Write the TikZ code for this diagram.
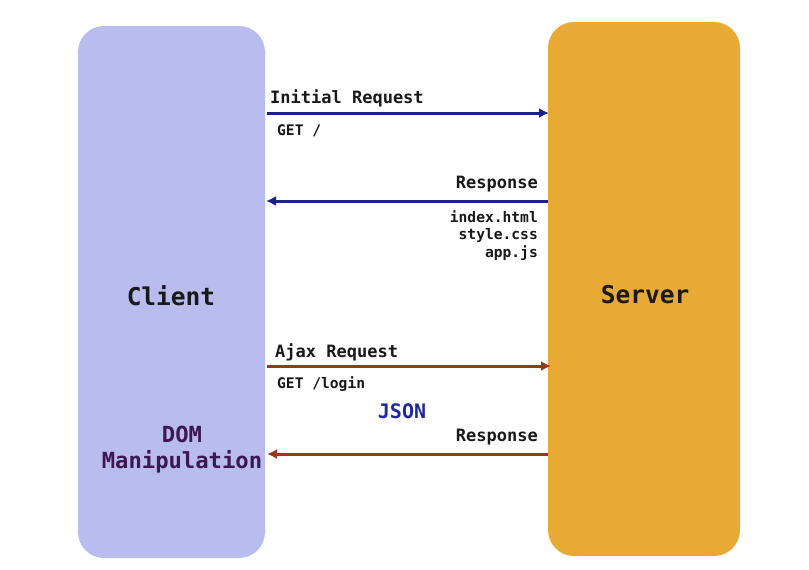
\documentclass[tikz,border=0pt]{standalone}
\usepackage{fontspec}
\setmonofont{DejaVu Sans Mono}
\usetikzlibrary{arrows.meta}
\definecolor{clientfill}{RGB}{184,188,238}
\definecolor{serverfill}{RGB}{232,170,52}
\definecolor{navyarrow}{RGB}{28,34,132}
\definecolor{redarrow}{RGB}{158,52,30}
\definecolor{dompurple}{RGB}{62,22,84}
\definecolor{jsonblue}{RGB}{30,40,165}
\definecolor{txt}{RGB}{25,25,25}
\begin{document}
\begin{tikzpicture}[x=1pt,y=-1pt,
  box/.style={rounded corners=26pt,draw=none,inner sep=0pt},
  lbl/.style={font=\ttfamily\bfseries\fontsize{17}{19}\selectfont,text=txt,inner sep=0pt},
  sub/.style={font=\ttfamily\bfseries\fontsize{14.6}{17}\selectfont,text=txt,inner sep=0pt},
  big/.style={font=\ttfamily\bfseries\fontsize{24.5}{27}\selectfont,text=txt,inner sep=0pt},
  conn/.style={line width=3pt,-{Latex[length=10pt,width=10pt]}}]
\useasboundingbox (0,0) rectangle (809,570);
\fill[white] (0,0) rectangle (809,570);
\node[box,fill=clientfill,minimum width=187pt,minimum height=532pt] (client) at (171.5,292) {};
\node[box,fill=serverfill,minimum width=192pt,minimum height=534pt] (server) at (644,289) {};
\node[big] (clientlbl) at (171,296) {Client};
\node[big] (serverlbl) at (645,295) {Server};
% coordinates for arrow ends
\coordinate (c1) at (267,113); \coordinate (s1) at (549,113);
\coordinate (s2) at (548,201); \coordinate (c2) at (266,201);
\coordinate (c3) at (267,366); \coordinate (s3) at (551,366);
\coordinate (s4) at (548,454); \coordinate (c4) at (267,454);
\draw[conn,navyarrow] (c1) -- (s1);
\draw[conn,navyarrow] (s2) -- (c2);
\draw[conn,redarrow] (c3) -- (s3);
\draw[conn,redarrow] (s4) -- (c4);
\node[lbl,anchor=west] (ireq) at (270,98) {Initial Request};
\node[sub,anchor=west] (get1) at (277,131) {GET /};
\node[lbl,anchor=east] (resp1) at (538,184) {Response};
\node[sub,anchor=north east,align=right,font=\ttfamily\bfseries\fontsize{14.6}{17.5}\selectfont] (files) at (538,210) {index.html\\style.css\\app.js};
\node[lbl,anchor=west] (areq) at (275,352) {Ajax Request};
\node[sub,anchor=west] (get2) at (277,384) {GET /login};
\node[lbl,text=jsonblue,font=\ttfamily\bfseries\fontsize{20}{22}\selectfont] (json) at (402,411) {JSON};
\node[lbl,anchor=east] (resp2) at (538,437) {Response};
\node[big,text=dompurple,align=center,font=\ttfamily\bfseries\fontsize{22.2}{26}\selectfont] (dom) at (182,450) {DOM\\Manipulation};
\end{tikzpicture}
\end{document}
